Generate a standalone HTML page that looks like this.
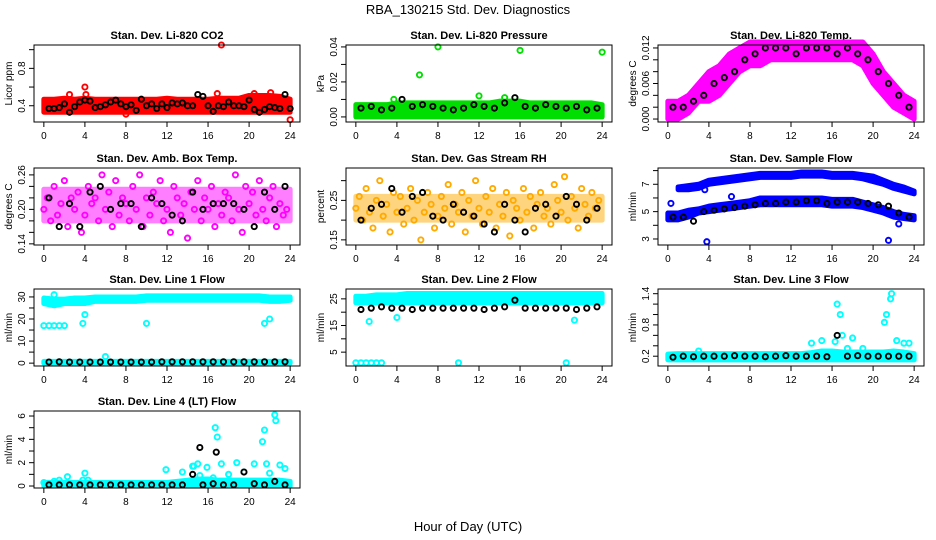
<!DOCTYPE html>
<html><head><meta charset="utf-8"><style>
html,body{margin:0;padding:0;background:#fff;}
svg{display:block;font-family:"Liberation Sans",Arial,sans-serif;}
</style></head><body>
<svg id="chart" width="936" height="540" viewBox="0 0 936 540">
<text x="468" y="14" text-anchor="middle" font-size="13">RBA_130215  Std. Dev. Diagnostics</text>
<text x="468" y="531" text-anchor="middle" font-size="13">Hour of Day (UTC)</text>
</svg>
<script>
// ---------- data ----------
const hourTicks=[0,4,8,12,16,20,24];
// Panel 1 CO2
const co2Lo=[0.33,0.33,0.33,0.33,0.33,0.33,0.33,0.33,0.33,0.33,0.33,0.33,0.33,0.33,0.33,0.33,0.33,0.33,0.33,0.33,0.33,0.33,0.33,0.33,0.33];
const co2Hi=[0.47,0.47,0.48,0.47,0.48,0.47,0.47,0.47,0.47,0.47,0.47,0.47,0.48,0.47,0.47,0.47,0.47,0.48,0.48,0.48,0.51,0.51,0.51,0.5,0.47];
const co2OutX=[4,4.1,17.3,24,8,2.5,20.5,22.1,16.9];
const co2OutY=[0.6,0.52,1.05,0.25,0.31,0.52,0.53,0.54,0.53];
const co2Black=[0.37,0.37,0.38,0.42,0.33,0.39,0.44,0.46,0.45,0.38,0.39,0.41,0.44,0.46,0.42,0.39,0.41,0.35,0.47,0.4,0.42,0.37,0.42,0.38,0.43,0.42,0.43,0.4,0.4,0.52,0.5,0.4,0.34,0.4,0.39,0.44,0.4,0.4,0.39,0.46,0.36,0.33,0.36,0.39,0.38,0.37,0.52,0.37];
// Panel 2 pressure
const presLo=[0,0,0,0,0,0,0,0,0,0,0,0,0,0,0,0,0,0,0,0,0,0,0,0,0];
const presHi=[0.007,0.007,0.007,0.007,0.008,0.008,0.008,0.008,0.008,0.008,0.008,0.008,0.008,0.008,0.009,0.009,0.009,0.008,0.008,0.008,0.008,0.008,0.008,0.008,0.007];
const presOutX=[8,16,24,6.2,12,14.5,3.7];
const presOutY=[0.04,0.038,0.037,0.024,0.012,0.011,0.01];
const presBlack=[0.005,0.006,0.004,0.005,0.01,0.006,0.007,0.006,0.005,0.004,0.005,0.007,0.006,0.005,0.008,0.011,0.006,0.005,0.007,0.006,0.005,0.006,0.004,0.005];
// Panel 3 temp
const tempLo=[0,0,0.001,0.003,0.003,0.004,0.006,0.008,0.009,0.009,0.01,0.01,0.01,0.01,0.01,0.01,0.01,0.01,0.01,0.009,0.006,0.004,0.002,0.001,0];
const tempHi=[0.003,0.003,0.004,0.006,0.008,0.009,0.011,0.012,0.013,0.013,0.013,0.013,0.013,0.013,0.013,0.013,0.013,0.013,0.013,0.013,0.011,0.008,0.006,0.004,0.003];
const tempBlack=[0.002,0.002,0.003,0.004,0.006,0.007,0.008,0.01,0.011,0.012,0.012,0.012,0.011,0.012,0.012,0.012,0.011,0.012,0.011,0.01,0.008,0.006,0.004,0.002];
// Panel 4 amb box temp (3 per hour)
const ambPts=[0.2,0.22,0.18,0.24,0.19,0.21,0.25,0.17,0.22,0.2,0.23,0.16,0.19,0.24,0.21,0.22,0.18,0.26,0.2,0.23,0.17,0.25,0.19,0.22,0.21,0.18,0.24,0.2,0.26,0.17,0.22,0.19,0.23,0.21,0.25,0.18,0.2,0.16,0.24,0.22,0.19,0.21,0.15,0.23,0.2,0.25,0.18,0.22,0.2,0.24,0.17,0.21,0.19,0.23,0.22,0.18,0.26,0.2,0.16,0.24,0.21,0.23,0.19,0.25,0.2,0.18,0.22,0.24,0.17,0.21,0.19,0.2];
const ambLo=[0.18,0.18,0.18,0.18,0.18,0.18,0.18,0.18,0.18,0.18,0.18,0.18,0.18,0.18,0.18,0.18,0.18,0.18,0.18,0.18,0.18,0.18,0.18,0.18,0.18];
const ambHi=[0.235,0.235,0.235,0.235,0.235,0.235,0.235,0.235,0.235,0.235,0.235,0.235,0.235,0.235,0.235,0.235,0.235,0.235,0.235,0.235,0.235,0.235,0.235,0.235,0.235];
const ambBlack=[0.22,0.17,0.21,0.17,0.23,0.24,0.2,0.21,0.21,0.17,0.22,0.21,0.19,0.18,0.23,0.2,0.21,0.21,0.21,0.2,0.17,0.23,0.2,0.24];
// Panel 5 gas RH
const rhPts=[0.23,0.26,0.2,0.28,0.22,0.18,0.25,0.3,0.21,0.24,0.17,0.27,0.22,0.26,0.19,0.23,0.28,0.2,0.25,0.15,0.22,0.27,0.24,0.18,0.21,0.26,0.23,0.29,0.19,0.24,0.22,0.27,0.17,0.25,0.21,0.3,0.23,0.19,0.26,0.22,0.28,0.18,0.24,0.21,0.27,0.16,0.25,0.23,0.2,0.28,0.22,0.26,0.18,0.24,0.27,0.21,0.23,0.19,0.29,0.25,0.22,0.31,0.2,0.26,0.23,0.18,0.28,0.24,0.21,0.27,0.23,0.25];
const rhLo=[0.2,0.2,0.2,0.2,0.2,0.2,0.2,0.2,0.2,0.2,0.2,0.2,0.2,0.2,0.2,0.2,0.2,0.2,0.2,0.2,0.2,0.2,0.2,0.2,0.2];
const rhHi=[0.26,0.26,0.26,0.26,0.26,0.26,0.26,0.26,0.26,0.26,0.26,0.26,0.26,0.26,0.26,0.26,0.26,0.26,0.26,0.26,0.26,0.26,0.26,0.26,0.26];
const rhBlack=[0.2,0.23,0.24,0.28,0.22,0.26,0.27,0.21,0.2,0.24,0.22,0.21,0.19,0.17,0.24,0.2,0.17,0.23,0.24,0.21,0.26,0.24,0.2,0.23];
// Panel 6 sample flow
const flowUpLo=[null,6.6,6.6,6.7,7.0,7.1,7.2,7.3,7.4,7.5,7.5,7.5,7.5,7.6,7.6,7.6,7.5,7.5,7.5,7.4,7.2,7.0,6.7,6.5,6.3];
const flowUpHi=[null,6.8,6.9,7.0,7.3,7.4,7.5,7.6,7.7,7.8,7.8,7.8,7.8,7.9,7.9,7.9,7.8,7.8,7.8,7.7,7.6,7.3,7.0,6.8,6.5];
const flowLoLo=[4.4,4.4,4.6,4.9,5.0,5.1,5.2,5.3,5.4,5.5,5.5,5.5,5.5,5.5,5.5,5.5,5.4,5.4,5.4,5.3,5.1,4.9,4.6,4.5,4.4];
const flowLoHi=[4.9,4.9,5.1,5.2,5.4,5.5,5.6,5.7,5.8,6.0,6.0,6.0,6.0,6.0,6.0,6.0,5.9,5.9,5.9,5.7,5.5,5.3,5.0,4.8,4.7];
const flowOutX=[3.8,21.5,6.2,0.3,22.5,3.6];
const flowOutY=[2.8,2.9,6.1,5.6,4.1,6.6];
const flowBlack=[4.6,4.6,4.3,5.0,5.1,5.2,5.3,5.4,5.5,5.6,5.6,5.7,5.7,5.8,5.8,5.6,5.7,5.7,5.7,5.6,5.5,5.4,4.9,4.6];
// Panel 7 line 1
const l1Lo=[27,26,27,27,27,28,28,28,28,28,28.5,28.5,28.5,28.5,28.5,28.5,28.5,28.5,28.5,28.5,28.5,28.5,28,28,28.5];
const l1Hi=[29.5,29,29,29.5,29.5,30,30,30,30,30,30.5,30.5,30.5,30.5,30.5,30.5,30.5,30.5,30.5,30.5,30.5,30.5,30,30,30];
const l1BaseLo=[0,0,0,0,0,0,0,0,0,0,0,0,0,0,0,0,0,0,0,0,0,0,0,0,0];
const l1BaseHi=[0.8,0.8,0.8,0.8,0.8,0.8,0.8,0.8,0.8,0.8,0.8,0.8,0.8,0.8,0.8,0.8,0.8,0.8,0.8,0.8,0.8,0.8,0.8,0.8,0.8];
const l1OutX=[0,0.5,1,1.5,2,4,3.8,10,21.5,22,1,6,0.3];
const l1OutY=[17,17,17,17,17,22,18,18,18,20,31,3,28];
const l1Black=[0.5,0.6,0.5,0.5,0.5,0.5,0.5,0.5,0.5,0.5,0.5,0.6,0.6,0.6,0.6,0.6,0.6,0.6,0.6,0.6,0.6,0.6,0.6,0.6];
// Panel 8 line 2
const l2Lo=[23.5,23.5,23.5,23.5,23.5,23.5,23.5,23.5,23.5,23.5,23.5,23.5,23.5,23.5,23.5,23.5,23.5,23.5,23.5,23.5,23.5,23.5,23.5,23.5,23.5];
const l2Hi=[26,26,26.5,26.5,26.5,27,27,27,27,27,27,27,27,27,27,27,27,27,27,27,27,27,27,27,27];
const l2OutX=[0,0.5,1,1.5,2,2.5,10,20.5,4,1.3,21.3];
const l2OutY=[1,1,1,1,1,1,1,1,18,16.5,17];
const l2Black=[21,21.5,22,21.5,21.5,21,21.5,21.5,21.5,21.5,21.5,21.5,21,21.5,22,24.5,21.5,21.5,21.5,21.5,21.5,21,21.5,22];
// Panel 9 line 3
const l3Lo=[0.13,0.13,0.13,0.13,0.13,0.13,0.13,0.13,0.13,0.13,0.13,0.13,0.13,0.13,0.13,0.13,0.13,0.13,0.13,0.13,0.13,0.13,0.13,0.13,0.13];
const l3Hi=[0.24,0.25,0.25,0.25,0.25,0.25,0.25,0.25,0.25,0.25,0.25,0.25,0.25,0.25,0.27,0.3,0.3,0.28,0.28,0.28,0.28,0.28,0.3,0.28,0.25];
const l3OutX=[16.5,16.8,21.8,21.7,21.3,21.1,14,15,17,22.3,23,23.5,18,19,3,16.3,17.5];
const l3OutY=[1.2,1.0,1.4,1.3,1.0,0.85,0.45,0.5,0.6,0.5,0.45,0.45,0.55,0.35,0.3,0.48,0.35];
const l3Black=[0.18,0.2,0.19,0.2,0.2,0.2,0.21,0.2,0.2,0.19,0.2,0.21,0.2,0.2,0.2,0.19,0.6,0.2,0.21,0.2,0.2,0.2,0.2,0.2];
// Panel 10 line 4
const l4Lo=[0,0,0,0,0,0,0,0,0,0,0,0,0,0,0,0,0,0,0,0,0,0,0,0,0];
const l4Hi=[0.3,0.3,0.3,0.3,0.3,0.3,0.3,0.3,0.3,0.3,0.3,0.3,0.3,0.4,0.5,0.6,0.6,0.5,0.5,0.5,0.5,0.5,0.5,0.5,0.4];
const l4OutX=[0,1,1.5,2.3,3.8,4,4.3,11.9,13.5,14.5,14.6,15,15.2,15.9,16.7,16.9,17.3,18,18.8,19.5,20.5,21.3,21.5,22.5,22.6,21.7,22,23,23.5,16.5];
const l4OutY=[0.3,0.4,0.5,0.8,0.5,1.1,0.5,1.4,1.2,1.7,1.7,1.9,0.9,1.6,5.0,4.2,1.9,1.0,2.0,1.2,1.9,3.8,4.8,6.1,5.6,1.9,1.1,1.8,1.5,0.7];
const l4Black=[0.1,0.1,0.1,0.1,0.1,0.1,0.1,0.1,0.1,0.1,0.1,0.1,0.1,0.1,1.0,0.1,0.2,0.1,0.1,1.2,0.2,0.1,0.4,0.1];
const l4BlackOutX=[15.2,16.8];
const l4BlackOutY=[3.3,2.9];

// ---------- rendering ----------
const NS='http://www.w3.org/2000/svg';
const svg=document.getElementById('chart');
function el(tag,attrs,parent){const e=document.createElementNS(NS,tag);for(const k in attrs)e.setAttribute(k,attrs[k]);(parent||svg).appendChild(e);return e;}
const colX=[34,346,658], rowY=[45,168,289,411], BW=266, BH=77;

function panel(key,col,row,title,ylab,ylim,ticks,labels){
  const g=el('g',{});
  
  
  const x0=colX[col],y0=rowY[row];
  const xs=h=>x0+BW*(h+0.96)/25.92;
  const ys=v=>y0+BH-BH*(v-ylim[0])/(ylim[1]-ylim[0]);
  const t=el('text',{x:x0+BW/2,y:y0-6,'text-anchor':'middle','font-size':'11','font-weight':'bold'},g);
  t.textContent=title;
  
  
  const plot=el('g',{},g);
  
  
  const box=el('rect',{x:x0,y:y0,width:BW,height:BH,fill:'none',stroke:'#000','stroke-width':1},g);
  
  
  const xa=el('g',{},g);
  
  
  el('line',{x1:xs(0),x2:xs(24),y1:y0+BH,y2:y0+BH,stroke:'#000'},xa);
  hourTicks.forEach(h=>{el('line',{x1:xs(h),x2:xs(h),y1:y0+BH,y2:y0+BH+5,stroke:'#000'},xa);
    const tt=el('text',{x:xs(h),y:y0+BH+17,'text-anchor':'middle','font-size':'10'},xa);tt.textContent=h;});
  const ya=el('g',{},g);
  
  
  el('line',{x1:x0,x2:x0,y1:ys(ticks[0]),y2:ys(ticks[ticks.length-1]),stroke:'#000'},ya);
  ticks.forEach(v=>el('line',{x1:x0-5,x2:x0,y1:ys(v),y2:ys(v),stroke:'#000'},ya));
  labels.forEach(v=>{const tt=el('text',{x:0,y:0,'text-anchor':'middle','font-size':'10',transform:`translate(${x0-9},${ys(v)}) rotate(-90)`},ya);tt.textContent=String(v);});
  const yl=el('text',{x:0,y:0,'text-anchor':'middle','font-size':'10',transform:`translate(${x0-22},${y0+BH/2}) rotate(-90)`},g);
  yl.textContent=ylab;
  
  
  return {plot,xs,ys};
}
function band(p,name,lo,hi,color,op){
  const top=[],bot=[];
  lo.forEach((v,i)=>{if(v===null)return;top.push(p.xs(i)+','+p.ys(hi[i]));bot.unshift(p.xs(i)+','+p.ys(v));});
  const pg=el('polygon',{points:top.concat(bot).join(' '),fill:color,stroke:color,'stroke-width':5,'stroke-linejoin':'round',opacity:op||1},p.plot);
  
  
}
function pts(p,name,xsArr,ysArr,color){
  const gg=el('g',{},p.plot);
  
  
  ysArr.forEach((v,i)=>{if(v===null)return;el('circle',{cx:p.xs(xsArr[i]),cy:p.ys(v),r:2.6,fill:'none',stroke:color,'stroke-width':1.9},gg);});
}
const halfHours=co2Black.map((_,i)=>0.5+i*0.5);
const hourly=presBlack.map((_,i)=>0.5+i);
const thirds=ambPts.map((_,i)=>i/3);
const RED='#ff0000',GRN='#00dd00',MAG='#ff00ff',BLU='#0000ff',CYN='#00ffff',ORG='#ffaa00',BLK='#000';

let p=panel('co2',0,0,'Stan. Dev. Li-820 CO2','Licor ppm',[0.226,1.05],[0.4,0.6,0.8,1.0],[0.4,0.8]);
band(p,'co2-band',co2Lo,co2Hi,RED);pts(p,'co2-outliers',co2OutX,co2OutY,RED);pts(p,'co2-black-series',halfHours,co2Black,BLK);
p=panel('pressure',1,0,'Stan. Dev. Li-820 Pressure','kPa',[-0.0029,0.0411],[0,0.01,0.02,0.03,0.04],['0.00','0.02','0.04']);
band(p,'pressure-band',presLo,presHi,GRN);pts(p,'pressure-outliers',presOutX,presOutY,GRN);pts(p,'pressure-black-series',hourly,presBlack,BLK);
p=panel('temp',2,0,'Stan. Dev. Li-820 Temp.','degrees C',[-0.0005,0.0125],[0,0.002,0.004,0.006,0.008,0.010,0.012],['0.000','0.006','0.012']);
band(p,'temp-band',tempLo,tempHi,MAG);pts(p,'temp-black-series',hourly,tempBlack,BLK);
p=panel('ambtemp',0,1,'Stan. Dev. Amb. Box Temp.','degrees C',[0.138,0.272],[0.14,0.16,0.18,0.2,0.22,0.24,0.26],['0.14','0.20','0.26']);
band(p,'ambtemp-band',ambLo,ambHi,MAG,0.5);pts(p,'ambtemp-points',thirds,ambPts,MAG);pts(p,'ambtemp-black-series',hourly,ambBlack,BLK);
p=panel('rh',1,1,'Stan. Dev. Gas Stream RH','percent',[0.137,0.332],[0.15,0.2,0.25,0.3],['0.15','0.25']);
band(p,'rh-band',rhLo,rhHi,ORG,0.5);pts(p,'rh-points',thirds,rhPts,ORG);pts(p,'rh-black-series',hourly,rhBlack,BLK);
p=panel('sampleflow',2,1,'Stan. Dev. Sample Flow','ml/min',[2.56,8.19],[3,4,5,6,7,8],[3,5,7]);
band(p,'sampleflow-upper-band',flowUpLo,flowUpHi,BLU);band(p,'sampleflow-lower-band',flowLoLo,flowLoHi,BLU);pts(p,'sampleflow-outliers',flowOutX,flowOutY,BLU);pts(p,'sampleflow-black-series',hourly,flowBlack,BLK);
p=panel('line1',0,2,'Stan. Dev. Line 1 Flow','ml/min',[-1.3,33.6],[0,5,10,15,20,25,30],[0,10,20,30]);
band(p,'line1-band',l1Lo,l1Hi,CYN);band(p,'line1-base-band',l1BaseLo,l1BaseHi,CYN);pts(p,'line1-outliers',l1OutX,l1OutY,CYN);pts(p,'line1-black-series',hourly,l1Black,BLK);
p=panel('line2',1,2,'Stan. Dev. Line 2 Flow','ml/min',[-0.2,28.7],[5,10,15,20,25],[5,15,25]);
band(p,'line2-band',l2Lo,l2Hi,CYN);pts(p,'line2-outliers',l2OutX,l2OutY,CYN);pts(p,'line2-black-series',hourly,l2Black,BLK);
p=panel('line3',2,2,'Stan. Dev. Line 3 Flow','ml/min',[0.012,1.49],[0.2,0.4,0.6,0.8,1.0,1.2,1.4],['0.2','0.8','1.4']);
band(p,'line3-band',l3Lo,l3Hi,CYN);pts(p,'line3-outliers',l3OutX,l3OutY,CYN);pts(p,'line3-black-series',hourly,l3Black,BLK);
p=panel('line4',0,3,'Stan. Dev. Line 4 (LT) Flow','ml/min',[-0.17,6.43],[0,1,2,3,4,5,6],[0,2,4,6]);
band(p,'line4-band',l4Lo,l4Hi,CYN);pts(p,'line4-outliers',l4OutX,l4OutY,CYN);pts(p,'line4-black-series',hourly,l4Black,BLK);pts(p,'line4-black-outliers',l4BlackOutX,l4BlackOutY,BLK);
</script>
</body></html>
